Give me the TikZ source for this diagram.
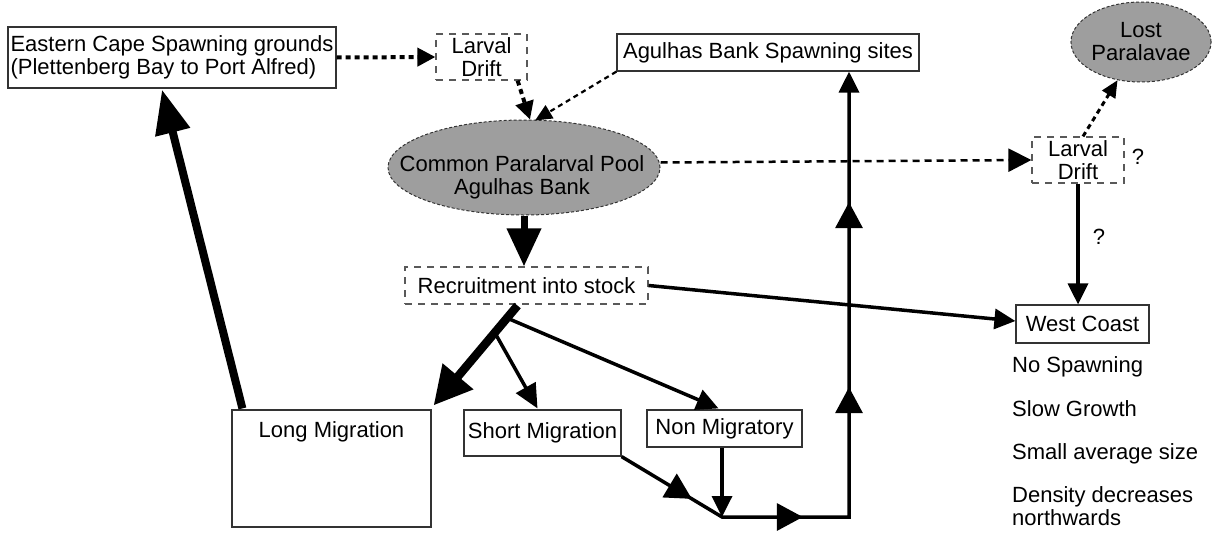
\documentclass[tikz,border=0pt]{standalone}
\usepackage{fontspec}
\setmainfont{Liberation Sans}
\usetikzlibrary{arrows.meta,shapes.geometric,calc,decorations.markings}
\tikzset{midtip/.tip={Triangle[length=26pt,width=27pt]}}
\begin{document}
\begin{tikzpicture}[x=1pt,y=-1pt,
  every node/.style={font=\fontsize{22}{23}\selectfont, inner sep=0pt},
  solidbox/.style={draw=black!80, line width=1.2pt, rectangle},
  dashbox/.style={draw=black!65, line width=1.2pt, dash pattern=on 7pt off 6pt, rectangle},
  blob/.style={ellipse, fill=black!38, draw=black!80, line width=1pt, dash pattern=on 3pt off 2pt},
  normarr/.style={line width=3.5pt, -{Triangle[length=21pt,width=20pt]}},
  dotarr/.style={line width=4pt, dash pattern=on 5pt off 4pt, -{Triangle[length=18pt,width=18pt]}},
  thindash/.style={line width=2.2pt, dash pattern=on 5pt off 4pt, -{Triangle[length=17pt,width=15pt]}},
  wideddash/.style={line width=2.5pt, dash pattern=on 7pt off 5pt, -{Triangle[length=23pt,width=23pt]}},
]
\useasboundingbox (0,0) rectangle (1215,536);

% nodes
\node[solidbox, minimum width=328pt, minimum height=61pt, align=left] (ec) at (172,57.5)
  {Eastern Cape Spawning grounds\\(Plettenberg Bay to Port Alfred)};
\node[dashbox, minimum width=91pt, minimum height=46pt, align=center] (ld1) at (481.5,57) {Larval\\Drift};
\node[solidbox, minimum width=302pt, minimum height=37pt] (abs) at (768,52.5) {Agulhas Bank Spawning sites};
\node[blob, minimum width=272pt, minimum height=95pt] (pool) at (524,167.5) {};
\node[align=center] (pooltxt) at (522,177) {Common Paralarval Pool\\Agulhas Bank};
\node[blob, minimum width=139pt, minimum height=80pt, align=center] (lost) at (1141,42) {Lost\\Paralavae};
\node[dashbox, minimum width=92pt, minimum height=46pt, align=center] (ld2) at (1078,160) {Larval\\Drift};
\node (q1) at (1138,157) {?};
\node (q2) at (1099,237) {?};
\node[dashbox, minimum width=243pt, minimum height=37pt] (rec) at (526.5,285.5) {Recruitment into stock};
\node[solidbox, minimum width=133pt, minimum height=38pt] (wc) at (1082.5,324) {West Coast};
\node[anchor=west] (t1) at (1012,366.5) {No Spawning};
\node[anchor=west] (t2) at (1012,409) {Slow Growth};
\node[anchor=west] (t3) at (1012,453.5) {Small average size};
\node[anchor=west, align=left] (t4) at (1012,506) {Density decreases\\northwards};
\node[solidbox, minimum width=199pt, minimum height=117pt] (long) at (331.5,468.5) {};
\node (longtxt) at (331.5,432) {Long Migration};
\node[solidbox, minimum width=157pt, minimum height=46pt] (short) at (542.5,433) {Short Migration};
\node[solidbox, minimum width=155pt, minimum height=37pt] (nonm) at (724.5,428.5) {Non Migratory};

% coordinates
\coordinate (r0) at ($(rec.south)+(-9,1)$);
\coordinate (b1) at (495,333);
\coordinate (b2) at (507,318);
\coordinate (j) at (722,517);
\coordinate (c) at (849,517);

% dotted / dashed connectors
\draw[dotarr] (ec.east) -- (ld1.west);
\draw[dotarr] ($(ld1.south east)+(-10,0)$) -- ($(pool.north)+(6,0)$);
\draw[thindash] (abs.south west) -- ($(pool.north)+(11,1)$);
\draw[wideddash] ($(pool.east)+(0,-5)$) -- (ld2.west);
\draw[line width=3pt, dash pattern=on 5pt off 4pt, -{Triangle[length=17pt,width=15pt]}] ($(ld2.north)+(5,0)$) -- (lost);

% solid connectors
\draw[normarr] (ld2.south) -- (ld2.south |- wc.north);
\draw[normarr] (rec.east) -- ($(wc.west)+(0,-3)$);
\draw[line width=7pt, -{Triangle[length=38pt,width=33pt]}] (pool.south) -- (pool.south |- rec.north);
\draw[line width=8.5pt, -{Triangle[length=38pt,width=38pt]}] (r0) -- ($(long.north east)+(2,-4)$);
\draw[normarr, -{Triangle[length=24pt,width=22pt]}] (b1) -- ($(short.north)+(-5,-1)$);
\draw[normarr, -{Triangle[length=22pt,width=21pt]}] (b2) -- ($(nonm.north)+(-6,-1)$);
\draw[line width=8pt, -{Triangle[length=44pt,width=34pt]}] ($(long.north west)+(11,-1)$) -- ($(ec.south)+(-10,1)$);

% bottom return path
\draw[normarr, line join=miter, postaction={decorate},
  decoration={markings,
    mark=at position 82pt with {\arrow{midtip}},
    mark=at position 198pt with {\arrow{midtip}},
    mark=at position 374pt with {\arrow{midtip}},
    mark=at position 559pt with {\arrow{midtip}}}]
  (short.south east) -- (j) -- (c) -- (c |- abs.south);
\draw[normarr] (j |- nonm.south) -- (j);
\end{tikzpicture}
\end{document}
